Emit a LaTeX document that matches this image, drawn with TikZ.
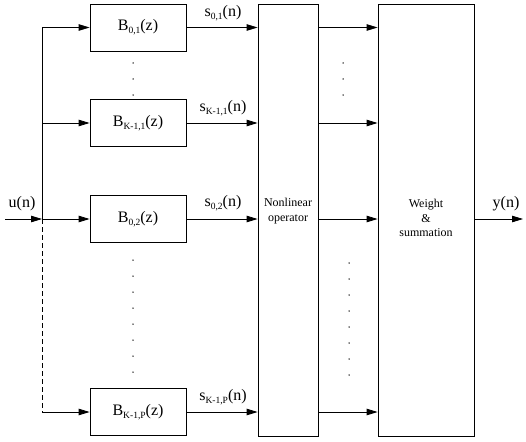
\documentclass[tikz,border=0pt]{standalone}
\usepackage{fontspec}
\setmainfont{Liberation Serif}
\usetikzlibrary{arrows.meta}
\newcommand\lowsub[1]{\raisebox{-0.45ex}{\fontsize{9.5}{10}\selectfont #1}}
\begin{document}
\begin{tikzpicture}[x=1pt,y=1pt,
  wire/.style={line width=0.8pt},
  sig/.style={wire,-{Triangle[length=11pt,width=6.5pt]}},
  filt/.style={draw,line width=0.8pt,minimum width=96pt,minimum height=47pt,inner sep=0pt,
    font=\fontsize{16}{18}\selectfont},
  tall/.style={draw,line width=0.8pt,minimum height=432pt,inner sep=0pt,align=center},
  blocktext/.style={inner sep=0pt,align=center,font=\fontsize{12}{14.5}\selectfont},
  lbl/.style={inner sep=0pt,font=\fontsize{16}{18}\selectfont},
  dot/.style={fill=black}]
\useasboundingbox (0,0) rectangle (526,-441);

% filter bank
\node[filt] (b1) at (138,-27.5) {B\lowsub{0,1}(z)};
\node[filt] (b2) at (138,-123) {B\lowsub{K-1,1}(z)};
\node[filt] (b3) at (138,-219) {B\lowsub{0,2}(z)};
\node[filt] (b4) at (138,-412) {B\lowsub{K-1,P}(z)};

% processing blocks
\node[tall,minimum width=60pt] (nl) at (288,-220) {};
\node[tall,minimum width=96pt] (ws) at (426,-220) {};
\node[blocktext] (nltext) at (288,-211) {Nonlinear\\operator};
\node[blocktext] (wstext) at (426,-218) {Weight\\\&\\summation};

% input bus
\coordinate (in) at (5,-219);
\coordinate (top) at (42,-27.5);
\coordinate (mid) at (42,-123);
\coordinate (jn) at (42,-219);
\coordinate (bot) at (42,-412);
\coordinate (out) at (523,-219);

\draw[sig] (in) -- (jn);
\draw[wire] (top) -- (jn);
\draw[wire,dash pattern=on 5pt off 3pt] (jn) -- (bot);
\draw[sig] (top) -- (b1.west);
\draw[sig] (mid) -- (b2.west);
\draw[sig] (jn) -- (b3.west);
\draw[sig] (bot) -- (b4.west);

% filter outputs into the nonlinear operator, and on to the weighting block
\foreach \b in {b1,b2,b3,b4}{
  \draw[sig] (\b.east) -- (\b.east -| nl.west);
  \draw[sig] (nl.east |- \b.east) -- (ws.west |- \b.east);
}
\draw[sig] (ws.east |- jn) -- (out);

% labels
\node[lbl] (un) at (22,-204) {u(n)};
\node[lbl] (yn) at (506,-204) {y(n)};
\node[lbl] (s1) at (223,-13) {s\lowsub{0,1}(n)};
\node[lbl] (s2) at (223,-108) {s\lowsub{K-1,1}(n)};
\node[lbl] (s3) at (223,-203) {s\lowsub{0,2}(n)};
\node[lbl] (s4) at (223,-397) {s\lowsub{K-1,P}(n)};

% ellipsis dots
\foreach \y in {63,79,95}{
  \fill[dot] (133,-\y) circle (0.75pt);
  \fill[dot] (343,-\y) circle (0.75pt);
}
\foreach \y in {260,276,292,308,324,340,356,372}{
  \fill[dot] (133,-\y) circle (0.75pt);
}
\foreach \y in {263,279,295,311,327,343,359,375}{
  \fill[dot] (349,-\y) circle (0.75pt);
}
\end{tikzpicture}
\end{document}
